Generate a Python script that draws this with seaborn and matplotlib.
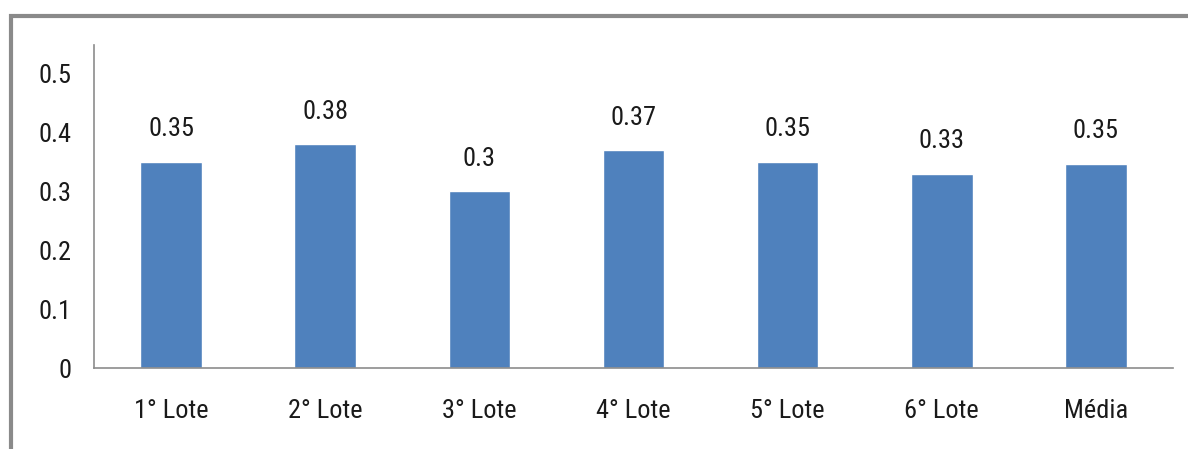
import matplotlib
matplotlib.use("Agg")
import matplotlib.pyplot as plt
from matplotlib.patches import Rectangle
import seaborn as sns
import pandas as pd

categorias = ["1° Lote", "2° Lote", "3° Lote", "4° Lote", "5° Lote", "6° Lote", "Média"]
valores = [0.35, 0.38, 0.30, 0.37, 0.35, 0.33, 0.3467]
y_ticks = [0, 0.1, 0.2, 0.3, 0.4, 0.5]

df = pd.DataFrame({"lote": categorias, "valor": valores})

sns.set_theme(style="white")
plt.rcParams["font.family"] = ["Roboto Condensed", "Carlito", "DejaVu Sans"]

W, H = 1188, 449
FS = 19
fig = plt.figure(figsize=(W / 100, H / 100), dpi=100)
ax = fig.add_axes([94 / W, 1 - 368 / H, (1173 - 94) / W, (368 - 45) / H])

sns.barplot(data=df, x="lote", y="valor", color="#4F81BD", width=0.4,
            saturation=1, ax=ax)

# value labels above each bar
for p, v in zip(ax.patches, valores):
    ax.text(p.get_x() + p.get_width() / 2, v + 0.035, f"{round(v, 2):g}",
            ha="center", va="bottom", fontsize=FS, color="#1a1a1a")

ax.set_ylim(0, 0.549)
ax.set_xlim(-0.5, len(categorias) - 0.5)
ax.set_yticks(y_ticks)
ax.set_yticklabels([f"{t:g}" for t in y_ticks])
ax.set_xlabel("")
ax.set_ylabel("")
ax.tick_params(axis="both", length=0, labelsize=FS, colors="#1a1a1a")
ax.tick_params(axis="y", pad=16)
ax.tick_params(axis="x", pad=22)

for side in ["top", "right"]:
    ax.spines[side].set_visible(False)
for side in ["left", "bottom"]:
    ax.spines[side].set_color("#8c8c8c")
    ax.spines[side].set_linewidth(1.2)

# outer chart frame
fig.patches.append(Rectangle((11 / W, -0.1), 1.2, 1 - 16 / H + 0.1,
                             transform=fig.transFigure, fill=False,
                             edgecolor="#8a8a8a", linewidth=3))

fig.savefig("out.png", dpi=100)
